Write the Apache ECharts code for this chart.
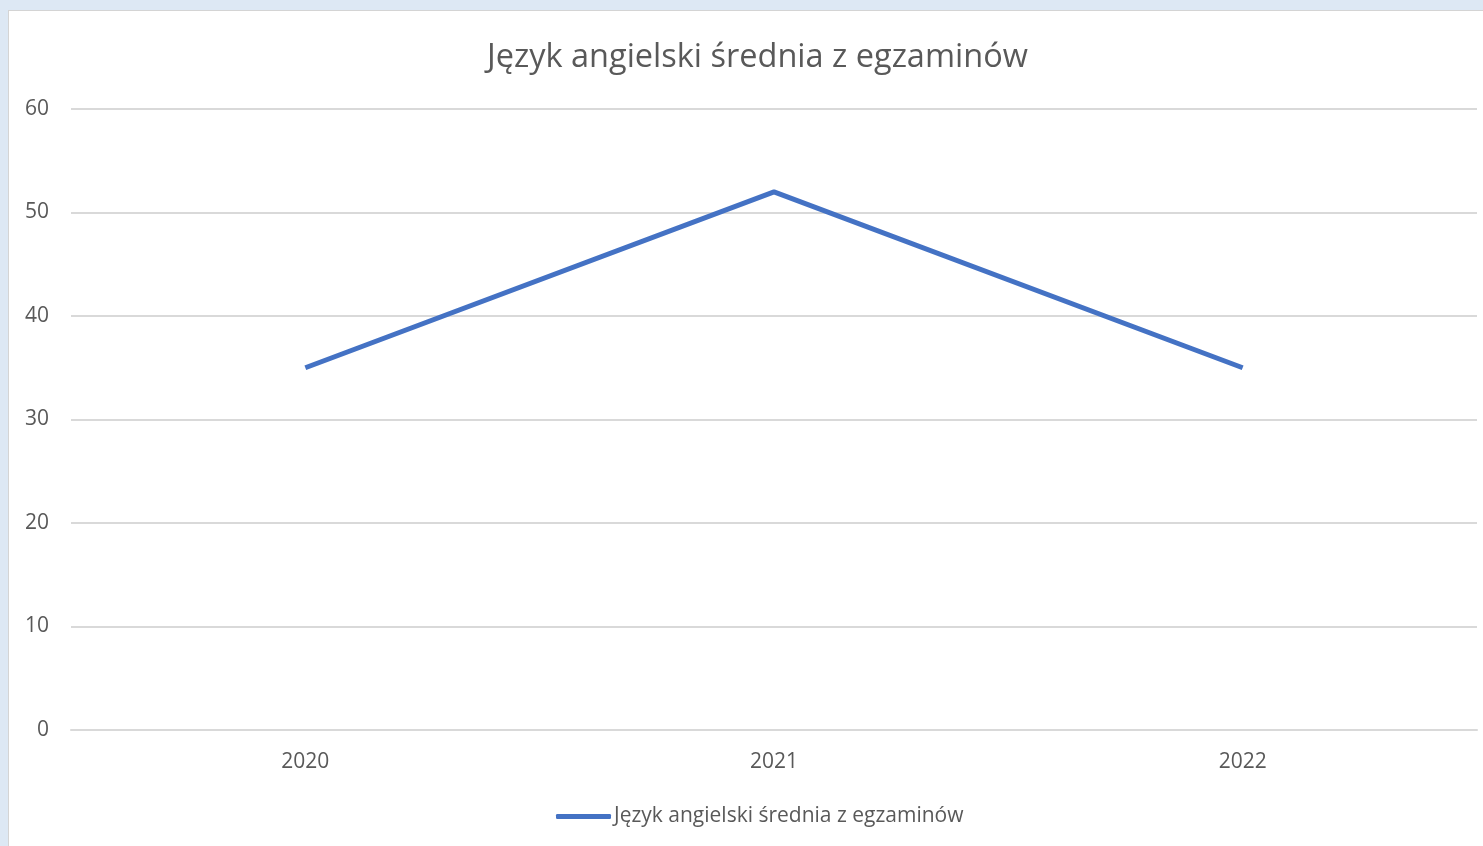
<!DOCTYPE html>
<html>
<head>
<meta charset="utf-8">
<script src="https://cdn.jsdelivr.net/npm/echarts@6/dist/echarts.min.js"></script>
<style>
  html, body { margin: 0; padding: 0; background: #dde8f4; overflow: hidden; }
  #chart {
    position: absolute; left: 8px; top: 10px;
    width: 1475px; height: 836px;
    background: #fff;
    border-top: 1px solid #d4d4d4; border-left: 1px solid #d4d4d4;
    box-sizing: border-box;
  }
</style>
</head>
<body>
<div id="chart"></div>
<script>
  // dane
  const years = ["2020", "2021", "2022"];
  const srednia = [35, 52, 35];
  const seriesName = "Język angielski średnia z egzaminów";

  const font = "'Open Sans', 'Noto Sans', sans-serif";
  const chart = echarts.init(document.getElementById("chart"));

  chart.setOption({
    animation: false,
    title: {
      text: seriesName,
      left: 473,
      top: 25,
      textStyle: { fontFamily: font, fontSize: 32.5, fontWeight: "normal", color: "#595959" }
    },
    legend: {
      bottom: 14,
      left: 542,
      itemWidth: 55,
      itemHeight: 5,
      itemGap: 4,
      icon: "roundRect",
      textStyle: { fontFamily: font, fontSize: 21, color: "#595959", padding: [0, 0, 0, -2] },
      data: [seriesName]
    },
    grid: { left: 62, right: 6, top: 98, bottom: 116 },
    xAxis: {
      type: "category",
      data: years,
      boundaryGap: true,
      axisLine: { show: true, lineStyle: { color: "#d9d9d9", width: 2 } },
      axisTick: { show: false },
      axisLabel: { fontFamily: font, fontSize: 21, color: "#595959", margin: 22 }
    },
    yAxis: {
      type: "value",
      min: 0,
      max: 60,
      interval: 10,
      axisLine: { show: false },
      axisTick: { show: false },
      splitLine: { lineStyle: { color: "#d9d9d9", width: 2 } },
      axisLabel: { fontFamily: font, fontSize: 21, color: "#595959", margin: 22 }
    },
    series: [{
      name: seriesName,
      type: "line",
      data: srednia,
      symbol: "none",
      lineStyle: { color: "#4472c4", width: 5 },
      itemStyle: { color: "#4472c4" }
    }]
  });
</script>
</body>
</html>
